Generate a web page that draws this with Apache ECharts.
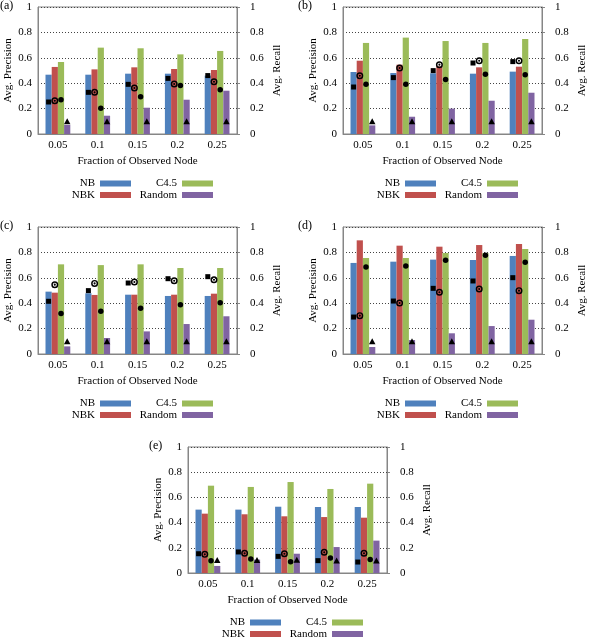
<!DOCTYPE html>
<html><head><meta charset="utf-8">
<script src="https://cdn.jsdelivr.net/npm/echarts@6/dist/echarts.min.js"></script>
<style>html,body{margin:0;padding:0;background:#fff}#c{width:590px;height:637px}</style>
</head><body><div id="c"></div>
<script>
const categories = ['0.05','0.1','0.15','0.2','0.25'];
const seriesNames = ['NB','NBK','C4.5','Random'];

// Panel (a) precision (bars) and recall (markers)
const precNB_a     = [0.467,0.467,0.475,0.475,0.460];
const precNBK_a    = [0.528,0.509,0.525,0.512,0.504];
const precC45_a    = [0.567,0.680,0.675,0.627,0.654];
const precRandom_a = [0.071,0.144,0.207,0.270,0.341];
const recNB_a      = [0.252,0.328,0.391,0.438,0.460];
const recNBK_a     = [0.262,0.328,0.362,0.394,0.412];
const recC45_a     = [0.270,0.202,0.294,0.381,0.349];
const recRandom_a  = [0.100,0.100,0.100,0.100,0.100];

// Panel (b)
const precNB_b     = [0.488,0.480,0.478,0.475,0.491];
const precNBK_b    = [0.577,0.546,0.533,0.525,0.530];
const precC45_b    = [0.717,0.759,0.732,0.717,0.748];
const precRandom_b = [0.068,0.136,0.200,0.262,0.325];
const recNB_b      = [0.370,0.444,0.499,0.559,0.570];
const recNBK_b     = [0.459,0.520,0.546,0.577,0.577];
const recC45_b     = [0.391,0.391,0.430,0.470,0.467];
const recRandom_b  = [0.100,0.100,0.100,0.100,0.100];

// Panel (c)
const precNB_c     = [0.491,0.478,0.467,0.457,0.457];
const precNBK_c    = [0.483,0.465,0.467,0.467,0.475];
const precC45_c    = [0.706,0.700,0.706,0.677,0.677];
const precRandom_c = [0.060,0.126,0.178,0.236,0.297];
const recNB_c      = [0.415,0.499,0.559,0.593,0.609];
const recNBK_c     = [0.546,0.556,0.567,0.577,0.585];
const recC45_c     = [0.318,0.336,0.360,0.388,0.404];
const recRandom_c  = [0.100,0.100,0.100,0.100,0.100];

// Panel (d)
const precNB_d     = [0.717,0.727,0.743,0.740,0.772];
const precNBK_d    = [0.895,0.853,0.845,0.858,0.866];
const precC45_d    = [0.756,0.756,0.795,0.795,0.827];
const precRandom_d = [0.055,0.110,0.163,0.220,0.270];
const recNB_d      = [0.291,0.417,0.517,0.575,0.601];
const recNBK_d     = [0.302,0.402,0.486,0.512,0.499];
const recC45_d     = [0.685,0.693,0.738,0.777,0.722];
const recRandom_d  = [0.100,0.100,0.100,0.100,0.100];

// Panel (e)
const precNB_e     = [0.503,0.503,0.526,0.524,0.524];
const precNBK_e    = [0.471,0.466,0.450,0.444,0.439];
const precC45_e    = [0.693,0.683,0.722,0.667,0.709];
const precRandom_e = [0.056,0.106,0.153,0.206,0.257];
const recNB_e      = [0.153,0.167,0.132,0.098,0.087];
const recNBK_e     = [0.148,0.156,0.153,0.164,0.156];
const recC45_e     = [0.098,0.111,0.090,0.119,0.108];
const recRandom_e  = [0.103,0.103,0.106,0.100,0.100];

const FONT = 'Liberation Serif, Times New Roman, serif';
const barColors = ['#4f81bd','#c0504d','#9bbb59','#8064a2'];
const frameColor = '#868686';
const ringPath = 'path://M5,0A5,5,0,1,1,5,10A5,5,0,1,1,5,0ZM5,2.1A2.9,2.9,0,1,0,5,7.9A2.9,2.9,0,1,0,5,2.1ZM5,3.5A1.5,1.5,0,1,1,5,6.5A1.5,1.5,0,1,1,5,3.5Z';
const markerSymbols = [
  {symbol:'rect', size:[5,5]},
  {symbol:ringPath, size:[7,7]},
  {symbol:'circle', size:[5.5,5.5]},
  {symbol:'triangle', size:[6.5,6]}
];

const panels = [
  {label:'(a)', left:38,  top:7,   height:127, labelX:0,   prec:[precNB_a,precNBK_a,precC45_a,precRandom_a], rec:[recNB_a,recNBK_a,recC45_a,recRandom_a]},
  {label:'(b)', left:343, top:7,   height:127, labelX:298, prec:[precNB_b,precNBK_b,precC45_b,precRandom_b], rec:[recNB_b,recNBK_b,recC45_b,recRandom_b]},
  {label:'(c)', left:38,  top:227, height:127, labelX:0,   prec:[precNB_c,precNBK_c,precC45_c,precRandom_c], rec:[recNB_c,recNBK_c,recC45_c,recRandom_c]},
  {label:'(d)', left:343, top:227, height:127, labelX:298, prec:[precNB_d,precNBK_d,precC45_d,precRandom_d], rec:[recNB_d,recNBK_d,recC45_d,recRandom_d]},
  {label:'(e)', left:188, top:447, height:126, labelX:149, prec:[precNB_e,precNBK_e,precC45_e,precRandom_e], rec:[recNB_e,recNBK_e,recC45_e,recRandom_e]}
];
const PW = 199;

const option = {
  animation:false,
  backgroundColor:'#fff',
  textStyle:{fontFamily:FONT},
  title:[], grid:[], xAxis:[], yAxis:[], series:[], legend:[]
};

panels.forEach((p,k)=>{
  option.title.push({text:p.label, left:p.labelX, top:p.top - 7, padding:0,
    textStyle:{fontFamily:FONT, fontSize:12, fontWeight:'normal', color:'#000'}});
  option.grid.push({left:p.left, top:p.top, width:PW, height:p.height, show:true,
    borderColor:frameColor, borderWidth:1, containLabel:false, outerBoundsMode:'none'});
  option.xAxis.push({type:'category', gridIndex:k, data:categories,
    axisLine:{show:true, lineStyle:{color:frameColor}}, axisTick:{show:false},
    axisLabel:{margin:6, fontFamily:FONT, fontSize:11, color:'#000'},
    name:'Fraction of Observed Node', nameLocation:'middle', nameGap:22,
    nameTextStyle:{fontFamily:FONT, fontSize:11, color:'#000'}});
  option.yAxis.push({type:'value', gridIndex:k, min:0, max:1, interval:0.2, position:'left',
    axisLine:{show:true, lineStyle:{color:frameColor}}, axisTick:{show:false},
    axisLabel:{margin:6, fontFamily:FONT, fontSize:11, color:'#000'},
    splitLine:{show:true, lineStyle:{color:'#444', type:[1,2], width:1}},
    name:'Avg. Precision', nameLocation:'middle', nameGap:24, nameRotate:90,
    nameTextStyle:{fontFamily:FONT, fontSize:11, color:'#000'}});
  option.yAxis.push({type:'value', gridIndex:k, min:0, max:1, interval:0.2, position:'right',
    axisLine:{show:true, lineStyle:{color:frameColor}}, axisTick:{show:true, length:3, lineStyle:{color:frameColor}},
    axisLabel:{margin:13, fontFamily:FONT, fontSize:11, color:'#000'},
    splitLine:{show:false},
    name:'Avg. Recall', nameLocation:'middle', nameGap:35, nameRotate:90,
    nameTextStyle:{fontFamily:FONT, fontSize:11, color:'#000'}});
  seriesNames.forEach((nm,i)=>{
    option.series.push({type:'bar', name:nm, xAxisIndex:k, yAxisIndex:2*k, data:p.prec[i],
      barWidth:6.2, barGap:'0%', itemStyle:{color:barColors[i]}, z:2});
  });
  seriesNames.forEach((nm,i)=>{
    const m = markerSymbols[i];
    option.series.push({type:'pictorialBar', name:nm+' recall', xAxisIndex:k, yAxisIndex:2*k+1, data:p.rec[i],
      barWidth:6.2, barGap:'0%', symbol:m.symbol, symbolSize:m.size, symbolPosition:'end',
      symbolOffset:[0,'-50%'], itemStyle:{color:'#000'}, z:5, silent:true});
  });
  const bottom = p.top + p.height;
  const rowsY = [bottom + 49.5, bottom + 61];
  const colX = [p.left + 93, p.left + 175];
  [['NB',0,0],['NBK',0,1],['C4.5',1,0],['Random',1,1]].forEach(([nm,c,r])=>{
    option.legend.push({data:[nm], right:590 - colX[c], top:rowsY[r] - 7, align:'right',
      orient:'horizontal', itemWidth:31, itemHeight:6, padding:0, itemGap:0, icon:'rect',
      selectedMode:false,
      textStyle:{fontFamily:FONT, fontSize:11, color:'#000', lineHeight:14}});
  });
});

const chart = echarts.init(document.getElementById('c'), null, {renderer:'canvas'});
chart.setOption(option);
</script></body></html>
